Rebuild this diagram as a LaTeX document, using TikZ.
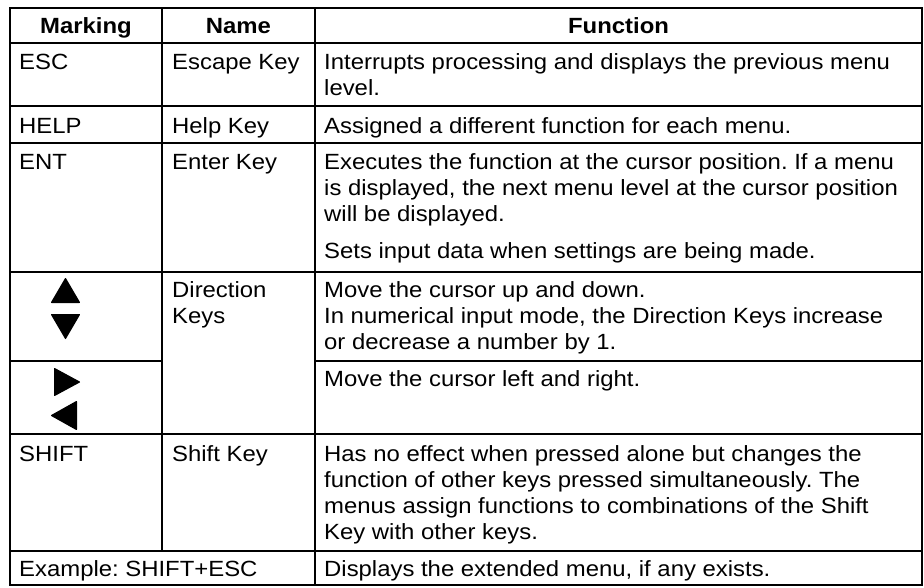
\documentclass[tikz,border=0pt]{standalone}
\usepackage{fontspec}
\setmainfont[FakeStretch=1.086]{Liberation Sans}
\frenchspacing
\begin{document}
\begin{tikzpicture}[x=1pt,y=-1pt,
  outer/.style={line width=2.8pt},
  inner/.style={line width=2pt},
  txt/.style={anchor=base west,inner sep=0pt,font=\fontsize{22}{26}\selectfont},
  hdr/.style={anchor=base,inner sep=0pt,font=\fontsize{22}{26}\selectfont\bfseries},
  tri/.style={fill=black,draw=black,line width=1.2pt,line join=round}]
\useasboundingbox (0,0) rectangle (924,587);
% grid lines
\draw[inner] (162,8) -- (162,551);
\draw[inner] (315,8) -- (315,585);
\draw[outer] (10,43) -- (922,43);
\draw[inner] (10,106) -- (922,106);
\draw[inner] (10,143) -- (922,143);
\draw[inner] (10,272) -- (922,272);
\draw[inner] (10,361) -- (162,361);
\draw[inner] (315,361) -- (922,361);
\draw[inner] (10,434) -- (922,434);
\draw[inner] (10,551) -- (922,551);
\draw[outer] (10,8) rectangle (922,585);
% header
\node[hdr] (h1) at (86,33) {Marking};
\node[hdr] (h2) at (238.5,33) {Name};
\node[hdr] (h3) at (618.5,33) {Function};
% ESC
\node[txt] (m1) at (19,69) {ESC};
\node[txt] (n1) at (172,69) {Escape Key};
\node[txt] (f1a) at (324,69) {Interrupts processing and displays the previous menu};
\node[txt] (f1b) at (324,95) {level.};
% HELP
\node[txt] (m2) at (19,133) {HELP};
\node[txt] (n2) at (172,133) {Help Key};
\node[txt] (f2) at (324,133) {Assigned a different function for each menu.};
% ENT
\node[txt] (m3) at (19,169) {ENT};
\node[txt] (n3) at (172,169) {Enter Key};
\node[txt] (f3a) at (324,169) {Executes the function at the cursor position. If a menu};
\node[txt] (f3b) at (324,195) {is displayed, the next menu level at the cursor position};
\node[txt] (f3c) at (324,221) {will be displayed.};
\node[txt] (f3d) at (324,258) {Sets input data when settings are being made.};
% Direction
\fill[tri] (65.5,278.6) -- (79.4,302.4) -- (51.6,302.4) -- cycle;
\fill[tri] (51.6,314.6) -- (79.4,314.6) -- (65.5,338.4) -- cycle;
\node[txt] (n4a) at (172,297) {Direction};
\node[txt] (n4b) at (172,323) {Keys};
\node[txt] (f4a) at (324,297) {Move the cursor up and down.};
\node[txt] (f4b) at (324,323) {In numerical input mode, the Direction Keys increase};
\node[txt] (f4c) at (324,349) {or decrease a number by 1.};
\fill[tri] (54.6,368.6) -- (79.4,382) -- (54.6,395.4) -- cycle;
\fill[tri] (76.4,401.6) -- (76.4,429.4) -- (51.6,415.5) -- cycle;
\node[txt] (f5) at (324,386) {Move the cursor left and right.};
% SHIFT
\node[txt] (m6) at (19,461) {SHIFT};
\node[txt] (n6) at (172,461) {Shift Key};
\node[txt] (f6a) at (324,461) {Has no effect when pressed alone but changes the};
\node[txt] (f6b) at (324,487) {function of other keys pressed simultaneously. The};
\node[txt] (f6c) at (324,513) {menus assign functions to combinations of the Shift};
\node[txt] (f6d) at (324,539) {Key with other keys.};
% Example
\node[txt] (m7) at (19,576) {Example: SHIFT+ESC};
\node[txt] (f7) at (324,576) {Displays the extended menu, if any exists.};
\end{tikzpicture}
\end{document}
